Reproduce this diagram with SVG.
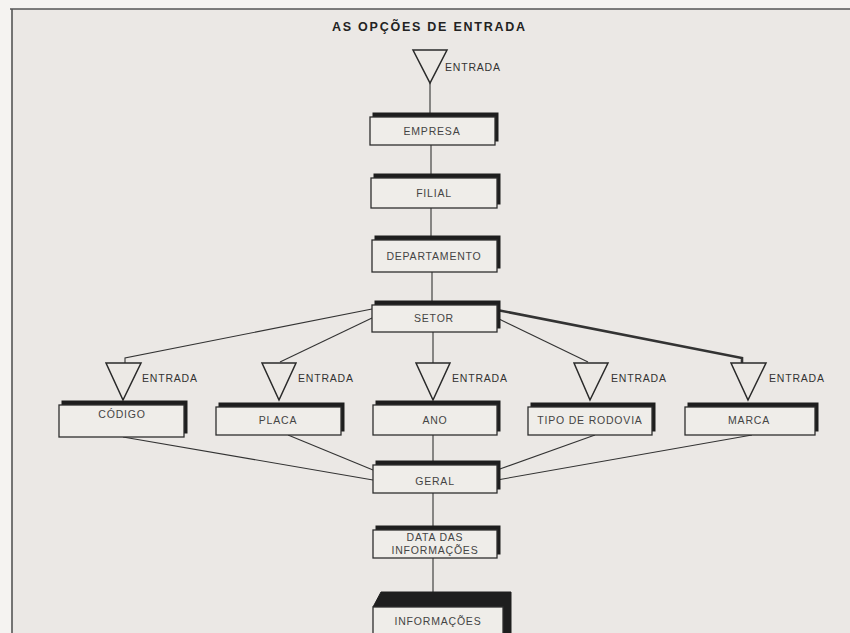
<svg xmlns="http://www.w3.org/2000/svg" width="850" height="633" viewBox="0 0 850 633">
<style>
.sh{fill:#1e1e1e;stroke:#1e1e1e;stroke-width:1}
.fr{fill:#efede9;stroke:#2e2e2e;stroke-width:1.3}
.tri{fill:#ece9e5;stroke:#2a2a2a;stroke-width:1.5;stroke-linejoin:miter}
.lbl{font-family:"Liberation Sans",Arial,sans-serif;font-size:10.5px;fill:#444;letter-spacing:0.8px;text-anchor:middle}
.ent{font-family:"Liberation Sans",Arial,sans-serif;font-size:10.5px;fill:#333;letter-spacing:0.8px}
.ln{fill:none;stroke:#333;stroke-width:1.1}
</style>
<rect x="0" y="0" width="850" height="633" fill="#f5f3f1"/>
<rect x="12" y="9" width="838" height="624" fill="#ebe8e5"/>
<g id="frame" stroke="#555" stroke-width="1.6" fill="none">
<line x1="10" y1="9" x2="850" y2="9"/>
<line x1="12" y1="9" x2="12" y2="633"/>
</g>
<text id="title" x="332" y="31" textLength="193" lengthAdjust="spacing" font-family="Liberation Sans,Arial,sans-serif" font-size="12.5" font-weight="bold" fill="#222">AS OPÇÕES DE ENTRADA</text>
<g id="connectors">
<line class="ln" x1="430" y1="83" x2="430" y2="113"/>
<line class="ln" x1="431" y1="145" x2="431" y2="175"/>
<line class="ln" x1="431" y1="208" x2="431" y2="237"/>
<line class="ln" x1="432" y1="272" x2="432" y2="301"/>
<line class="ln" x1="433" y1="332" x2="433" y2="363"/>
<line class="ln" x1="433" y1="435" x2="433" y2="462"/>
<line class="ln" x1="433" y1="493" x2="433" y2="527"/>
<line class="ln" x1="433" y1="558" x2="433" y2="592"/>
<polyline class="ln" points="372,309 125,358 125,363"/>
<line class="ln" x1="372" y1="318" x2="280" y2="362"/>
<line class="ln" x1="497" y1="318" x2="588" y2="362"/>
<polyline class="ln" style="stroke-width:2.6" points="497,310 742,358 742,363"/>
<line class="ln" x1="123" y1="437" x2="373" y2="480"/>
<line class="ln" x1="288" y1="435" x2="373" y2="470"/>
<line class="ln" x1="595" y1="435" x2="497" y2="470"/>
<line class="ln" x1="752" y1="435" x2="497" y2="480"/>
</g>
<g id="entrada-top">
<polygon class="tri" points="413,50 447,50 430,83"/>
<text class="ent" x="445" y="71">ENTRADA</text>
</g>
<g id="empresa">
<rect class="sh" x="373" y="113" width="125" height="28"/>
<rect class="fr" x="370" y="117" width="125" height="28"/>
<text class="lbl" x="432" y="135">EMPRESA</text>
</g>
<g id="filial">
<rect class="sh" x="374" y="174" width="126" height="30"/>
<rect class="fr" x="371" y="178" width="126" height="30"/>
<text class="lbl" x="434" y="197">FILIAL</text>
</g>
<g id="departamento">
<rect class="sh" x="375" y="236" width="125" height="32"/>
<rect class="fr" x="372" y="240" width="125" height="32"/>
<text class="lbl" x="434" y="260">DEPARTAMENTO</text>
</g>
<g id="setor">
<rect class="sh" x="375" y="301" width="125" height="27"/>
<rect class="fr" x="372" y="305" width="125" height="27"/>
<text class="lbl" x="434" y="322">SETOR</text>
</g>
<g id="entrada-codigo">
<polygon class="tri" points="106,363 141,363 123,400"/>
<text class="ent" x="142" y="382">ENTRADA</text>
</g>
<g id="codigo">
<rect class="sh" x="62" y="401" width="125" height="32"/>
<rect class="fr" x="59" y="405" width="125" height="32"/>
<text class="lbl" x="122" y="418">CÓDIGO</text>
</g>
<g id="entrada-placa">
<polygon class="tri" points="262,363 296,363 279,400"/>
<text class="ent" x="298" y="382">ENTRADA</text>
</g>
<g id="placa">
<rect class="sh" x="219" y="403" width="125" height="28"/>
<rect class="fr" x="216" y="407" width="125" height="28"/>
<text class="lbl" x="278" y="424">PLACA</text>
</g>
<g id="entrada-ano">
<polygon class="tri" points="416,363 450,363 433,400"/>
<text class="ent" x="452" y="382">ENTRADA</text>
</g>
<g id="ano">
<rect class="sh" x="376" y="401" width="124" height="30"/>
<rect class="fr" x="373" y="405" width="124" height="30"/>
<text class="lbl" x="435" y="424">ANO</text>
</g>
<g id="entrada-tipo">
<polygon class="tri" points="574,363 608,363 590,400"/>
<text class="ent" x="611" y="382">ENTRADA</text>
</g>
<g id="tipo-de-rodovia">
<rect class="sh" x="531" y="403" width="124" height="28"/>
<rect class="fr" x="528" y="407" width="124" height="28"/>
<text class="lbl" x="590" y="424">TIPO DE RODOVIA</text>
</g>
<g id="entrada-marca">
<polygon class="tri" points="731,363 766,363 748,400"/>
<text class="ent" x="769" y="382">ENTRADA</text>
</g>
<g id="marca">
<rect class="sh" x="688" y="403" width="130" height="28"/>
<rect class="fr" x="685" y="407" width="130" height="28"/>
<text class="lbl" x="749" y="424">MARCA</text>
</g>
<g id="geral">
<rect class="sh" x="376" y="461" width="124" height="28"/>
<rect class="fr" x="373" y="465" width="124" height="28"/>
<text class="lbl" x="435" y="485">GERAL</text>
</g>
<g id="data-das-informacoes">
<rect class="sh" x="376" y="526" width="124" height="28"/>
<rect class="fr" x="373" y="530" width="124" height="28"/>
<text class="lbl" x="435" y="541">DATA DAS</text>
<text class="lbl" x="435" y="554">INFORMAÇÕES</text>
</g>
<g id="informacoes">
<polygon class="sh" points="373,607 381,592 511,592 511,633 503,633 503,607"/>
<rect class="fr" x="373" y="607" width="130" height="30"/>
<text class="lbl" x="438" y="625">INFORMAÇÕES</text>
</g>
</svg>
